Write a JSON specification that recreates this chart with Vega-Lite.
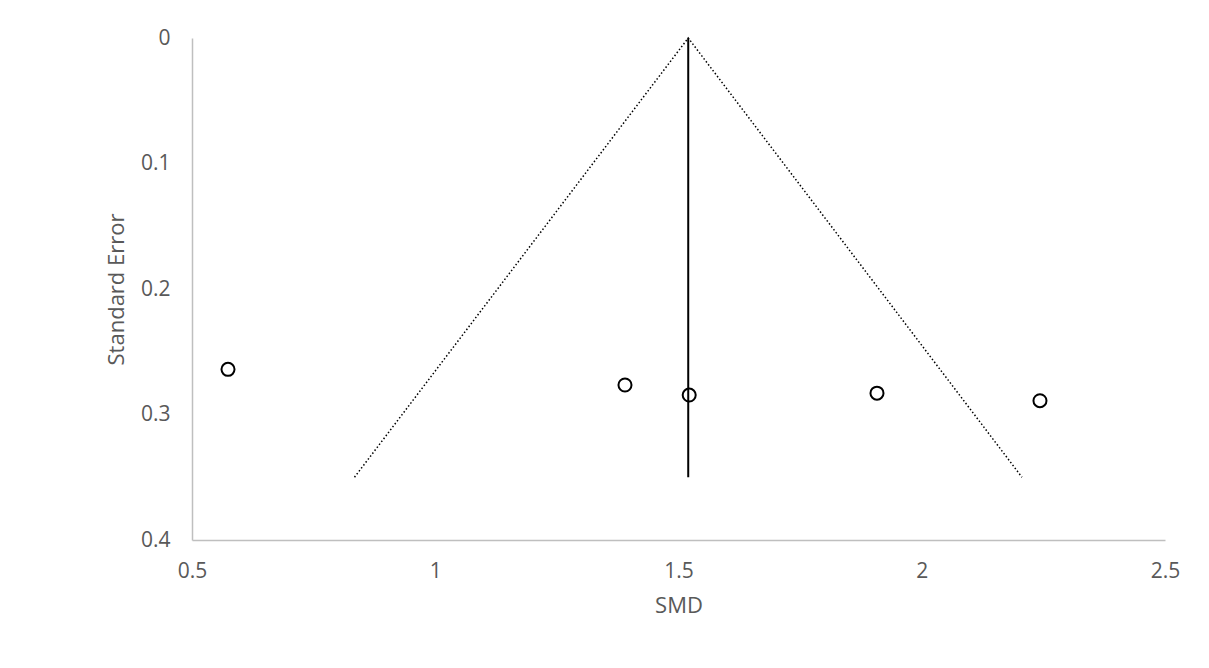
{
  "$schema": "https://vega.github.io/schema/vega-lite/v6.json",
  "autosize": {"type": "none"},
  "width": 973,
  "height": 502,
  "padding": {"left": 192, "top": 38, "right": 44, "bottom": 128},
  "background": "white",
  "config": {
    "view": {"stroke": null},
    "font": "Open Sans",
    "axis": {
      "grid": false,
      "ticks": false,
      "labelFlush": false,
      "domainColor": "#BFBFBF",
      "domainWidth": 1.5,
      "labelColor": "#595959",
      "titleColor": "#595959",
      "labelFont": "Open Sans",
      "titleFont": "Open Sans",
      "labelFontSize": 21,
      "titleFontSize": 22,
      "titleFontWeight": "normal"
    }
  },
  "datasets": {
    "studies": [
      {"smd": 0.574, "se": 0.264},
      {"smd": 1.39, "se": 0.2765},
      {"smd": 1.522, "se": 0.2845},
      {"smd": 1.908, "se": 0.283},
      {"smd": 2.243, "se": 0.289}
    ],
    "funnel": [
      {"smd": 0.834, "se": 0.35, "ord": 1},
      {"smd": 1.52, "se": 0.0, "ord": 2},
      {"smd": 2.206, "se": 0.35, "ord": 3}
    ],
    "mean": [
      {"smd": 1.52, "se0": 0.0, "se1": 0.35}
    ]
  },
  "layer": [
    {
      "data": {"name": "funnel"},
      "mark": {"type": "line", "color": "black", "strokeWidth": 1.5, "strokeDash": [1.5, 2.2]},
      "encoding": {
        "x": {"field": "smd", "type": "quantitative"},
        "y": {"field": "se", "type": "quantitative"},
        "order": {"field": "ord"}
      }
    },
    {
      "data": {"name": "mean"},
      "mark": {"type": "rule", "color": "black", "strokeWidth": 2},
      "encoding": {
        "x": {"field": "smd", "type": "quantitative"},
        "y": {"field": "se0", "type": "quantitative"},
        "y2": {"field": "se1"}
      }
    },
    {
      "data": {"name": "studies"},
      "mark": {"type": "point", "shape": "circle", "filled": false, "color": "black", "strokeWidth": 2, "size": 170, "opacity": 1},
      "encoding": {
        "x": {
          "field": "smd", "type": "quantitative",
          "scale": {"domain": [0.5, 2.5], "nice": false, "zero": false},
          "axis": {"values": [0.5, 1, 1.5, 2, 2.5], "format": "~g", "title": "SMD", "labelPadding": 20, "titlePadding": 14}
        },
        "y": {
          "field": "se", "type": "quantitative",
          "scale": {"domain": [0, 0.4], "reverse": true, "nice": false},
          "axis": {"values": [0, 0.1, 0.2, 0.3, 0.4], "format": "~g", "title": "Standard Error", "labelPadding": 22, "titlePadding": 12}
        }
      }
    }
  ]
}
